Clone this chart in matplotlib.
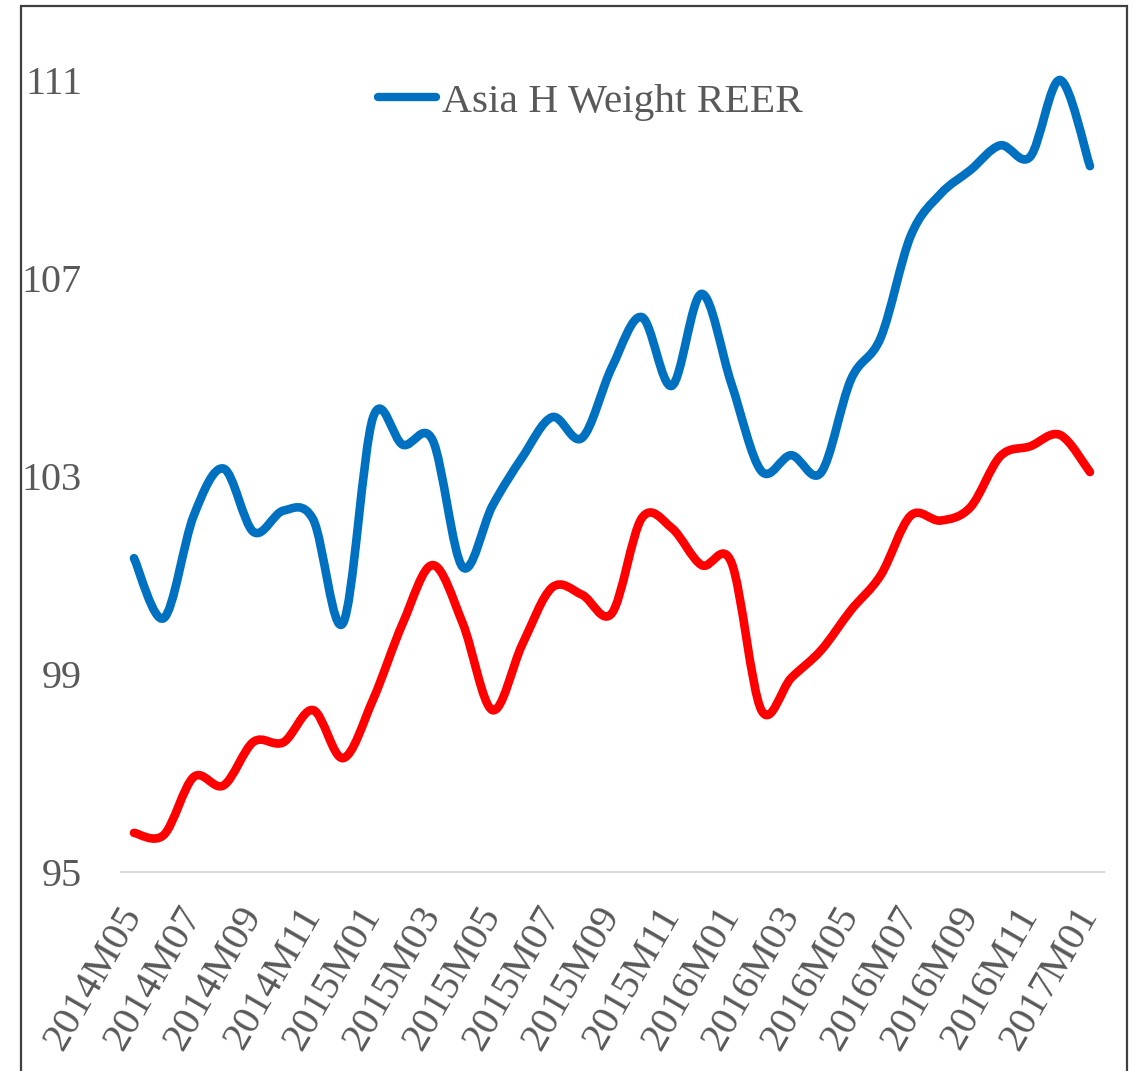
import matplotlib
matplotlib.use('Agg')
import matplotlib.pyplot as plt
import numpy as np
from matplotlib.path import Path
from matplotlib.patches import PathPatch, Rectangle
from matplotlib.lines import Line2D

# monthly series, 2014M05 .. 2017M01 (33 months)
asia_h_weight = [101.34, 100.13, 102.2, 103.15, 101.87, 102.3, 102.12, 100.03, 104.18,
                 103.63, 103.72, 101.16, 102.4, 103.38, 104.19, 103.77, 105.2, 106.21,
                 104.82, 106.68, 104.86, 103.1, 103.42, 103.07, 104.95, 105.8, 107.85,
                 108.7, 109.18, 109.68, 109.45, 111.0, 109.26]
red_series = [95.79, 95.75, 96.92, 96.75, 97.63, 97.62, 98.27, 97.3, 98.48,
              100.03, 101.2, 100.03, 98.27, 99.6, 100.75, 100.6, 100.23, 102.15,
              101.95, 101.2, 101.25, 98.27, 98.92, 99.48, 100.29, 101.0, 102.2,
              102.1, 102.37, 103.4, 103.6, 103.83, 103.08]
tick_labels = ['2014M05', '2014M07', '2014M09', '2014M11', '2015M01', '2015M03',
               '2015M05', '2015M07', '2015M09', '2015M11', '2016M01', '2016M03',
               '2016M05', '2016M07', '2016M09', '2016M11', '2017M01']
y_ticks = [95, 99, 103, 107, 111]
legend_label = 'Asia H Weight REER'

BLUE = '#0070C0'
RED = '#FF0000'
GREY = '#595959'

plt.rcParams['font.family'] = ['Liberation Serif', 'DejaVu Serif']


def smooth_path(y):
    # Excel-style smoothed line: cubic bezier through each point
    x = np.arange(len(y), dtype=float)
    y = np.asarray(y, dtype=float)
    pts = np.column_stack([x, y])
    p = np.vstack([pts[0], pts, pts[-1]])
    verts = [pts[0]]
    codes = [Path.MOVETO]
    for i in range(1, len(p) - 2):
        c1 = p[i] + (p[i + 1] - p[i - 1]) / 6.0
        c2 = p[i + 1] - (p[i + 2] - p[i]) / 6.0
        verts += [c1, c2, p[i + 1]]
        codes += [Path.CURVE4] * 3
    return Path(verts, codes)


fig = plt.figure(figsize=(11.37, 10.71), dpi=100)
ax = fig.add_axes([121 / 1137, 1 - 872 / 1071, (1104 - 121) / 1137, (872 - 30.5) / 1071])

for series, col in [(asia_h_weight, BLUE), (red_series, RED)]:
    patch = PathPatch(smooth_path(series), fill=False, edgecolor=col, lw=6.2,
                      capstyle='round', joinstyle='round')
    ax.add_patch(patch)

ax.set_xlim(-0.435, 32.47)
ax.set_ylim(95, 112)

ax.set_yticks(y_ticks)
ax.set_yticklabels([str(v) for v in y_ticks])
ax.set_xticks(np.arange(0, 33, 2))
ax.set_xticklabels(tick_labels, rotation=60, rotation_mode='anchor', ha='right', va='center')
ax.tick_params(axis='y', length=0, pad=28, labelsize=29, labelcolor=GREY)
ax.tick_params(axis='x', length=0, pad=27, labelsize=29.5, labelcolor=GREY)

for s in ['left', 'right', 'top']:
    ax.spines[s].set_visible(False)
ax.spines['bottom'].set_color('#D9D9D9')
ax.spines['bottom'].set_linewidth(1.5)

handle = Line2D([], [], color=BLUE, lw=6, solid_capstyle='round')
fig.legend(handles=[handle], labels=[legend_label], loc='center left',
           bbox_to_anchor=(378 / 1137, 1 - 102 / 1071), bbox_transform=fig.transFigure,
           frameon=False, fontsize=29.8, labelcolor=GREY, handlelength=1.4,
           handletextpad=0.15, borderpad=0, borderaxespad=0)

# outer chart border
fig.patches.append(Rectangle((21 / 1137, -0.05), (1127 - 21) / 1137, 1.05 - 6 / 1071,
                             transform=fig.transFigure, fill=False, edgecolor='#404040',
                             lw=1.6))

fig.savefig('out.png', dpi=100)
